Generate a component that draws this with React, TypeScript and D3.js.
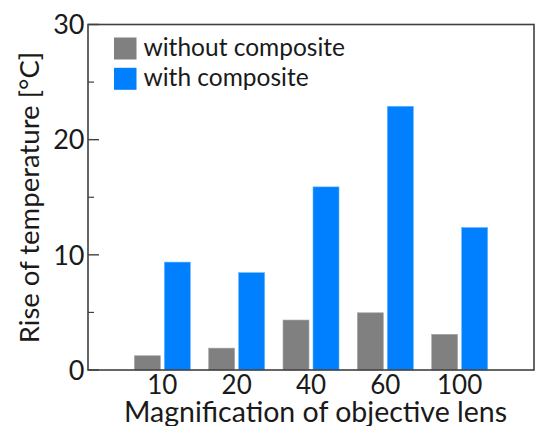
import React from "react";
import * as d3 from "d3";

const categories: string[] = ["10", "20", "40", "60", "100"];
const withoutComposite: number[] = [1.24, 1.9, 4.34, 4.97, 3.1];
const withComposite: number[] = [9.37, 8.45, 15.9, 22.9, 12.37];
const majorTicks: number[] = [0, 10, 20, 30];
const minorTicks: number[] = [5, 15, 25];
const seriesNames: string[] = ["without composite", "with composite"];
const seriesColors: string[] = ["#808080", "#0080ff"];

const W = 536;
const H = 426;
const left = 88;
const right = 534;
const top = 24.5;
const bottom = 370;
const FONT = "Lato, 'Open Sans', sans-serif";

export default function App() {
  const x = d3.scaleLinear().domain([0, categories.length + 1]).range([left, right]);
  const y = d3.scaleLinear().domain([0, 30]).range([bottom, top]);
  const barW = 26;
  const gap = 4;
  return (
    <svg width={W} height={H} style={{ position: "absolute", left: 0, top: 0 }}>
      <rect x={0} y={0} width={W} height={H} fill="#fff" />
      {categories.map((c, i) => {
        const cx = x(i + 1);
        return (
          <g key={c}>
            <rect x={cx - gap / 2 - barW} y={y(withoutComposite[i])} width={barW} height={y(0) - y(withoutComposite[i])} fill={seriesColors[0]} stroke="#a8a8a8" strokeWidth={0.6} />
            <rect x={cx + gap / 2} y={y(withComposite[i])} width={barW} height={y(0) - y(withComposite[i])} fill={seriesColors[1]} stroke="#66b3ff" strokeWidth={0.6} />
            <text x={cx} y={393.5} textAnchor="middle" fontFamily={FONT} fontSize={26} fill="#1a1a1a">{c}</text>
          </g>
        );
      })}
      <rect x={left} y={top} width={right - left} height={bottom - top} fill="none" stroke="#404040" strokeWidth={1.6} />
      {majorTicks.map((t) => (
        <g key={"M" + t}>
          <line x1={left} x2={left + 11} y1={y(t)} y2={y(t)} stroke="#404040" strokeWidth={1.4} />
          <text x={84.5} y={y(t)} dy="0.36em" textAnchor="end" fontFamily={FONT} fontSize={27} fill="#1a1a1a">{t}</text>
        </g>
      ))}
      {minorTicks.map((t) => (
        <line key={"m" + t} x1={left} x2={left + 6} y1={y(t)} y2={y(t)} stroke="#404040" strokeWidth={1.2} />
      ))}
      {seriesNames.map((n, i) => (
        <g key={n}>
          <rect x={114} y={37.5 + i * 30.3} width={22.5} height={22} fill={seriesColors[i]} />
          <text x={143.5} y={55.5 + i * 30.3} fontFamily={FONT} fontSize={24.5} fill="#1a1a1a">{n}</text>
        </g>
      ))}
      <text x={315.5} y={421.5} textAnchor="middle" fontFamily={FONT} fontSize={28.5} fill="#1a1a1a">Magnification of objective lens</text>
      <text transform={`translate(38.5,197.5) rotate(-90)`} textAnchor="middle" fontFamily={FONT} fontSize={27.5} fill="#1a1a1a">Rise of temperature [°C]</text>
    </svg>
  );
}
